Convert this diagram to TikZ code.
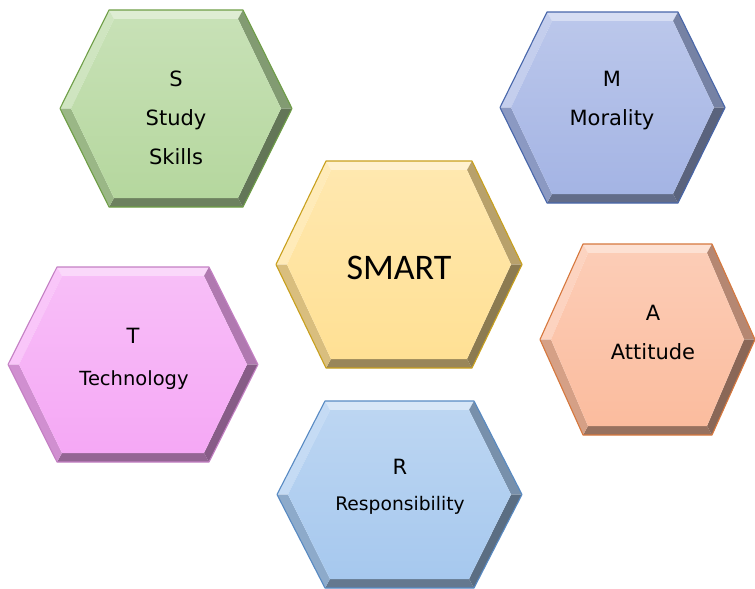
\documentclass[tikz,border=0pt]{standalone}
\usepackage{fontspec}
\setmainfont{DejaVu Sans}
\newfontfamily\smartfont{Carlito}
\usetikzlibrary{positioning}

\definecolor{sfill}{RGB}{181,215,158}
\definecolor{sedge}{RGB}{110,158,70}
\definecolor{mfill}{RGB}{164,180,228}
\definecolor{medge}{RGB}{72,102,170}
\definecolor{tfill}{RGB}{245,168,245}
\definecolor{tedge}{RGB}{196,128,196}
\definecolor{afill}{RGB}{251,188,158}
\definecolor{aedge}{RGB}{214,120,62}
\definecolor{cfill}{RGB}{255,224,148}
\definecolor{cedge}{RGB}{200,160,30}
\definecolor{rfill}{RGB}{166,200,238}
\definecolor{redge}{RGB}{88,138,195}

% bevelled hexagon: name, centre x, centre y, half width, half height, inset
\newcommand{\hexcell}[6]{%
  \begin{scope}[shift={(#2,#3)}]
    \coordinate (#1-w)   at (-#4,0);
    \coordinate (#1-nw)  at (-#4+#6,-#5);
    \coordinate (#1-ne)  at (#4-#6,-#5);
    \coordinate (#1-e)   at (#4,0);
    \coordinate (#1-se)  at (#4-#6,#5);
    \coordinate (#1-sw)  at (-#4+#6,#5);
    \coordinate (#1-iw)  at (-#4+11,0);
    \coordinate (#1-inw) at (-#4+#6+5,-#5+9);
    \coordinate (#1-ine) at (#4-#6-5,-#5+9);
    \coordinate (#1-ie)  at (#4-11,0);
    \coordinate (#1-ise) at (#4-#6-5,#5-9);
    \coordinate (#1-isw) at (-#4+#6+5,#5-9);
  \end{scope}
  \fill[#1fill!45!white] (#1-nw) -- (#1-ne) -- (#1-ine) -- (#1-inw) -- cycle;
  \fill[#1fill!65!white] (#1-w) -- (#1-nw) -- (#1-inw) -- (#1-iw) -- cycle;
  \fill[#1fill!72!black] (#1-ne) -- (#1-e) -- (#1-ie) -- (#1-ine) -- cycle;
  \fill[#1fill!55!black] (#1-e) -- (#1-se) -- (#1-ise) -- (#1-ie) -- cycle;
  \fill[#1fill!60!black] (#1-se) -- (#1-sw) -- (#1-isw) -- (#1-ise) -- cycle;
  \fill[#1fill!85!black] (#1-sw) -- (#1-w) -- (#1-iw) -- (#1-isw) -- cycle;
  \shade[top color=#1fill!75!white,bottom color=#1fill]
    (#1-iw) -- (#1-inw) -- (#1-ine) -- (#1-ie) -- (#1-ise) -- (#1-isw) -- cycle;
  \draw[#1edge,line width=1.1pt,line join=round]
    (#1-w) -- (#1-nw) -- (#1-ne) -- (#1-e) -- (#1-se) -- (#1-sw) -- cycle;
}

\begin{document}
\begin{tikzpicture}[x=1pt,y=-1pt,
  celltext/.style={align=center,text=black,font=\fontsize{21}{39}\selectfont},
  smalltext/.style={align=center,text=black,font=\fontsize{19.5}{36}\selectfont}]
  \useasboundingbox (0,0) rectangle (755,589);

  \hexcell{s}{176}{108.5}{116}{98.5}{49}
  \hexcell{m}{612.5}{107.5}{112.5}{95.5}{47}
  \hexcell{c}{399}{264.5}{123}{103.5}{50}
  \hexcell{t}{133}{364.5}{125}{97.5}{49}
  \hexcell{a}{647.5}{339.5}{107.5}{95.5}{43}
  \hexcell{r}{399.5}{494.5}{122.5}{93.5}{48}

  \node[celltext] (s) at (176,118) {S\\Study\\Skills};
  \node[celltext] (m) at (612,101) {M\\Morality};
  \node[font=\smartfont\fontsize{36}{40}\selectfont] (c) at (399,268) {SMART};
  \node[celltext] (t) at (133,336) {T};
  \node[smalltext] (tt) at (134,380) {Technology};
  \node[celltext] (a) at (653,332) {A\\Attitude};
  \node[celltext] (r) at (400,467) {R};
  \node[font=\fontsize{18.7}{36}\selectfont] (rr) at (400,505) {Responsibility};
\end{tikzpicture}
\end{document}
